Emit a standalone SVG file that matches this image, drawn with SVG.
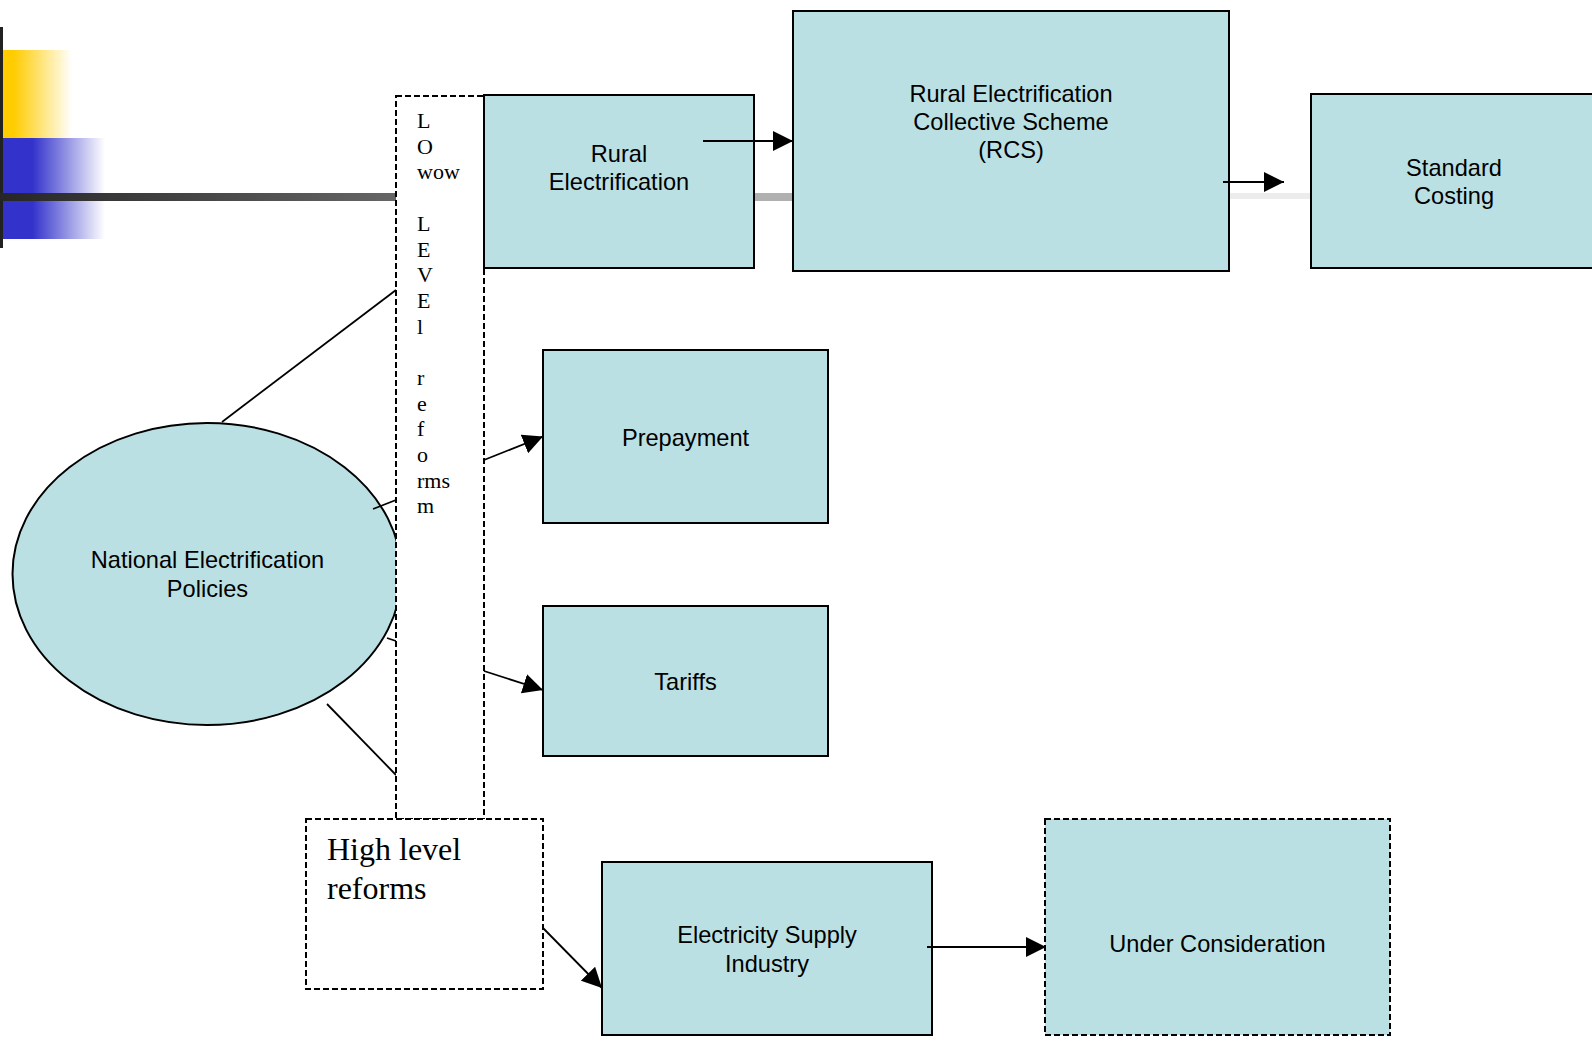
<svg xmlns="http://www.w3.org/2000/svg" width="1592" height="1041" viewBox="0 0 1592 1041">
<defs>
<linearGradient id="gy" gradientUnits="userSpaceOnUse" x1="3" y1="0" x2="72" y2="0">
<stop offset="0" stop-color="#ffcc00"/><stop offset="0.15" stop-color="#ffcc00"/><stop offset="1" stop-color="#ffffff"/>
</linearGradient>
<linearGradient id="gb" gradientUnits="userSpaceOnUse" x1="3" y1="0" x2="105" y2="0">
<stop offset="0" stop-color="#3333cc"/><stop offset="0.29" stop-color="#3333cc"/><stop offset="1" stop-color="#ffffff"/>
</linearGradient>
<linearGradient id="gd" gradientUnits="userSpaceOnUse" x1="0" y1="0" x2="396" y2="0">
<stop offset="0" stop-color="#262626"/><stop offset="1" stop-color="#666666"/>
</linearGradient>
<marker id="ah" viewBox="0 0 20 20" refX="20" refY="10" markerWidth="20" markerHeight="20" markerUnits="userSpaceOnUse" orient="auto">
<path d="M0,0 L20,10 L0,20 z" fill="#000"/>
</marker>
<style>
.box{fill:#bbe0e3;stroke:#000;stroke-width:2}
.dbox{fill:#bbe0e3;stroke:#000;stroke-width:2;stroke-dasharray:6 3}
.wbox{fill:#fff;stroke:#000;stroke-width:2;stroke-dasharray:6 3}
.lbl{font-family:"Liberation Sans",Arial,sans-serif;font-size:23.6px;fill:#000;text-anchor:middle}
.ser{font-family:"Liberation Serif","Times New Roman",serif;fill:#000}
.ln{stroke:#000;stroke-width:1.8;fill:none}
.ar{stroke:#000;stroke-width:1.8;fill:none;marker-end:url(#ah)}
</style>
</defs>
<rect width="1592" height="1041" fill="#fff"/>
<g id="decor">
<rect x="3" y="50" width="69" height="88" fill="url(#gy)"/>
<rect x="3" y="138" width="102" height="101" fill="url(#gb)"/>
<rect x="0" y="27" width="3" height="221" fill="#222"/>
<rect x="0" y="193" width="396" height="8" fill="url(#gd)"/>
<rect x="754" y="193" width="39" height="8" fill="#b0b0b0"/>
<rect x="1229" y="193" width="82" height="6" fill="#ececec"/>
</g>
<g id="node-national">
<ellipse cx="207" cy="574" rx="194.5" ry="151" class="box"/>
<text class="lbl" x="207.5" y="568.3">National Electrification</text>
<text class="lbl" x="207.5" y="597.3">Policies</text>
</g>
<g id="connectors-hidden">
<line class="ln" x1="222" y1="422" x2="396" y2="290"/>
<line class="ln" x1="373" y1="509" x2="396" y2="500"/>
<line class="ln" x1="387" y1="638" x2="396" y2="641"/>
<line class="ln" x1="327" y1="704" x2="396" y2="775"/>
</g>
<g id="node-lowlevel">
<rect x="396" y="96" width="88" height="723" class="wbox"/>
<g class="ser" font-size="22">
<text x="417" y="128">L</text>
<text x="417" y="154">O</text>
<text x="417" y="179">wow</text>
<text x="417" y="231">L</text>
<text x="417" y="257">E</text>
<text x="417" y="282">V</text>
<text x="417" y="308">E</text>
<text x="417" y="334">l</text>
<text x="417" y="385">r</text>
<text x="417" y="411">e</text>
<text x="417" y="436">f</text>
<text x="417" y="462">o</text>
<text x="417" y="488">rms</text>
<text x="417" y="513">m</text>
</g>
</g>
<g id="node-highlevel">
<rect x="306" y="819" width="237" height="170" class="wbox"/>
<text class="ser" font-size="32" x="327" y="860">High level</text>
<text class="ser" font-size="32" x="327" y="899">reforms</text>
</g>
<g id="node-rural">
<rect x="484" y="95" width="270" height="173" class="box"/>
<text class="lbl" x="619" y="161.7">Rural</text>
<text class="lbl" x="619" y="190">Electrification</text>
</g>
<g id="node-rcs">
<rect x="793" y="11" width="436" height="260" class="box"/>
<text class="lbl" x="1011" y="101.7">Rural Electrification</text>
<text class="lbl" x="1011" y="129.5">Collective Scheme</text>
<text class="lbl" x="1011" y="157.5">(RCS)</text>
</g>
<g id="node-standard">
<rect x="1311" y="94" width="290" height="174" class="box"/>
<text class="lbl" x="1454" y="176">Standard</text>
<text class="lbl" x="1454" y="203.5">Costing</text>
</g>
<g id="node-prepayment">
<rect x="543" y="350" width="285" height="173" class="box"/>
<text class="lbl" x="685.5" y="446">Prepayment</text>
</g>
<g id="node-tariffs">
<rect x="543" y="606" width="285" height="150" class="box"/>
<text class="lbl" x="685.5" y="690">Tariffs</text>
</g>
<g id="node-esi">
<rect x="602" y="862" width="330" height="173" class="box"/>
<text class="lbl" x="767" y="943">Electricity Supply</text>
<text class="lbl" x="767" y="971.5">Industry</text>
</g>
<g id="node-under">
<rect x="1045" y="819" width="345" height="216" class="dbox"/>
<text class="lbl" x="1217.5" y="951.7">Under Consideration</text>
</g>
<g id="connectors">
<line class="ar" x1="703" y1="141" x2="793" y2="141"/>
<line class="ar" x1="1223" y1="182" x2="1284" y2="182"/>
<line class="ar" x1="484" y1="460" x2="543" y2="436.5"/>
<line class="ar" x1="484" y1="671" x2="543" y2="690"/>
<line class="ar" x1="543" y1="928" x2="602" y2="988"/>
<line class="ar" x1="927" y1="947" x2="1046" y2="947"/>
</g>
</svg>
